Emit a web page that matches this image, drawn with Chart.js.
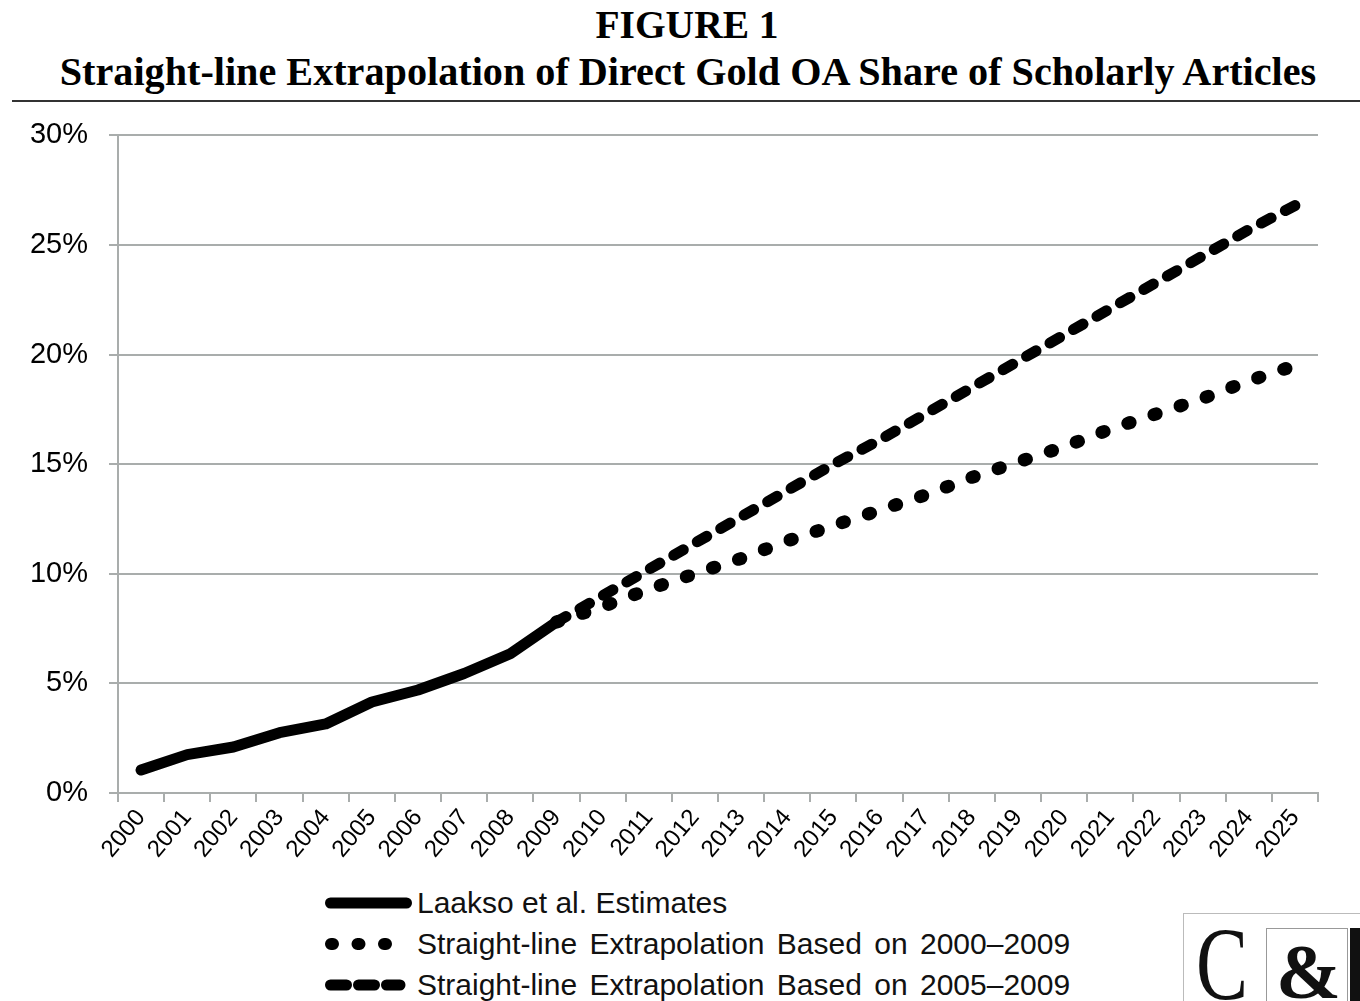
<!DOCTYPE html>
<html>
<head>
<meta charset="utf-8">
<script src="https://cdn.jsdelivr.net/npm/chart.js@4.4.1/dist/chart.umd.min.js"></script>
<style>
  body { margin: 0; background: #fff; width: 1360px; height: 1001px; overflow: hidden; position: relative; }
  .title { position: absolute; left: 0; width: 1374px; text-align: center; font-family: "Liberation Serif", "Times New Roman", serif; font-weight: bold; color: #000; white-space: nowrap; }
  #rule { position: absolute; left: 12px; top: 100px; width: 1348px; height: 2px; background: #333; }
  #chartBox { position: absolute; left: 0; top: 97px; width: 1360px; height: 773px; }
  .legText { position: absolute; left: 417px; font-family: "Liberation Sans", Arial, sans-serif; font-size: 30px; color: #111; white-space: nowrap; line-height: 36px; }
  #legSvg { position: absolute; left: 0; top: 880px; }
  #logo { position: absolute; left: 1183px; top: 913px; width: 190px; height: 100px; border: 1px solid #bbb; overflow: hidden; font-family: "Liberation Serif", serif; }
</style>
</head>
<body>
<div class="title" style="top:2px; font-size:39.5px;">FIGURE 1</div>
<div class="title" style="top:48px; font-size:40.2px; left:1px;">Straight-line Extrapolation of Direct Gold OA Share of Scholarly Articles</div>
<div id="rule"></div>
<div id="chartBox"><canvas id="chart"></canvas></div>

<svg id="legSvg" width="420" height="121">
  <line x1="330.5" y1="23" x2="406.5" y2="23" stroke="#000" stroke-width="11" stroke-linecap="round"/>
  <line x1="331" y1="64" x2="388" y2="64" stroke="#000" stroke-width="12" stroke-linecap="round" stroke-dasharray="2 24.5"/>
  <line x1="330.5" y1="105" x2="400" y2="105" stroke="#000" stroke-width="11" stroke-linecap="round" stroke-dasharray="16 12"/>
</svg>
<div class="legText" style="top:885px;">Laakso et al. Estimates</div>
<div class="legText" style="top:926px; word-spacing:4px;">Straight-line Extrapolation Based on 2000–2009</div>
<div class="legText" style="top:967px; word-spacing:4px;">Straight-line Extrapolation Based on 2005–2009</div>

<div id="logo">
  <span style="position:absolute; left:12px; top:-2px; font-size:104px; line-height:104px; color:#111; transform:scaleX(0.75); transform-origin:left top;">C</span>
  <span style="position:absolute; left:82px; top:14px; width:80px; height:90px; border:1px solid #999;"></span>
  <span style="position:absolute; left:92px; top:10px; font-size:78px; line-height:96px; font-weight:bold; color:#111;">&amp;</span>
  <span style="position:absolute; left:166px; top:14px; width:20px; height:90px; background:#111;"></span>
</div>

<script>
// Categories (years)
const years = ['2000','2001','2002','2003','2004','2005','2006','2007','2008','2009','2010','2011','2012',
  '2013','2014','2015','2016','2017','2018','2019','2020','2021','2022','2023','2024','2025'];

// Laakso et al. estimates, % of scholarly articles
const laakso = [1.05, 1.75, 2.1, 2.75, 3.15, 4.15, 4.7, 5.45, 6.35, 7.8];

// extrapolation based on 2000-2009 (starts at 2009)
const extrap0009 = [null, null, null, null, null, null, null, null, null,
  7.8, 8.5, 9.3, 10.0, 10.7, 11.5, 12.2, 12.9, 13.6, 14.4, 15.1, 15.8, 16.6, 17.3, 18.0, 18.8, 19.5];

// extrapolation based on 2005-2009 (starts at 2009)
const extrap0509 = [null, null, null, null, null, null, null, null, null,
  7.8, 9.0, 10.2, 11.4, 12.6, 13.8, 15.0, 16.1, 17.3, 18.5, 19.7, 20.9, 22.1, 23.3, 24.5, 25.7, 26.8];

const yTicks = [0, 5, 10, 15, 20, 25, 30];

const gridGray = '#a9adac';

const ctx = document.getElementById('chart').getContext('2d');
new Chart(ctx, {
  type: 'line',
  data: {
    labels: years,
    datasets: [
      {
        label: 'Straight-line Extrapolation Based on 2000–2009',
        data: extrap0009,
        borderColor: '#000',
        borderWidth: 13,
        borderDash: [2.5, 25],
        borderCapStyle: 'round',
        borderJoinStyle: 'round',
        pointRadius: 0,
        tension: 0
      },
      {
        label: 'Straight-line Extrapolation Based on 2005–2009',
        data: extrap0509,
        borderColor: '#000',
        borderWidth: 11,
        borderDash: [11, 16],
        borderCapStyle: 'round',
        borderJoinStyle: 'round',
        pointRadius: 0,
        tension: 0
      },
      {
        label: 'Laakso et al. Estimates',
        data: laakso,
        borderColor: '#000',
        borderWidth: 11,
        borderCapStyle: 'round',
        borderJoinStyle: 'round',
        pointRadius: 0,
        tension: 0
      }
    ]
  },
  options: {
    responsive: true,
    maintainAspectRatio: false,
    animation: false,
    layout: { padding: { left: 0, right: 42, top: 8, bottom: 0 } },
    plugins: {
      legend: { display: false },
      tooltip: { enabled: false }
    },
    scales: {
      x: {
        type: 'category',
        offset: true,
        afterFit: function (scale) { scale.height = 77; },
        grid: {
          offset: true,
          drawOnChartArea: false,
          drawTicks: true,
          tickLength: 9,
          color: gridGray,
          lineWidth: 2
        },
        border: { display: true, color: gridGray, width: 2 },
        ticks: {
          autoSkip: false,
          minRotation: 50,
          maxRotation: 50,
          padding: 2,
          color: '#000',
          font: { family: '"Liberation Sans", Arial, sans-serif', size: 24 }
        }
      },
      y: {
        min: 0,
        max: 30,
        afterFit: function (scale) { scale.width = 118; },
        afterBuildTicks: function (scale) { scale.ticks = yTicks.map(v => ({ value: v })); },
        grid: {
          color: gridGray,
          lineWidth: 2,
          drawTicks: true,
          tickLength: 9
        },
        border: { display: true, color: gridGray, width: 2 },
        ticks: {
          padding: 21,
          color: '#000',
          font: { family: '"Liberation Sans", Arial, sans-serif', size: 29 },
          callback: function (v) { return v + '%'; }
        }
      }
    }
  }
});
</script>
</body>
</html>
